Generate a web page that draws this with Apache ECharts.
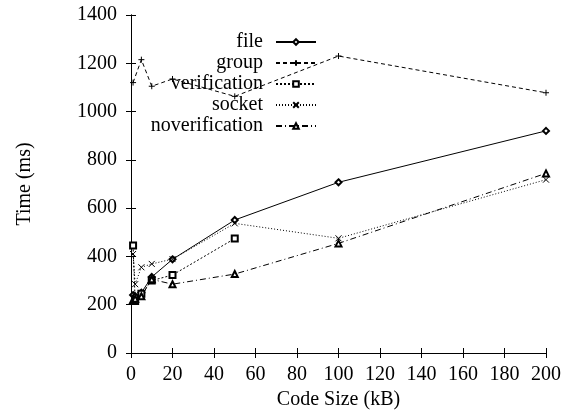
<!DOCTYPE html>
<html><head><meta charset="utf-8">
<script src="https://cdn.jsdelivr.net/npm/echarts@6/dist/echarts.min.js"></script>
<style>html,body{margin:0;padding:0;background:#fff}#c{width:574px;height:412px}</style>
</head><body><div id="c"></div>
<script>
const sizes = [1, 2, 5, 10, 20, 50, 100, 200];
const fileVals = [240, 235, 250, 315, 388, 551, 707, 920];
const groupX = [1, 5, 10, 20, 50, 100, 200];
const groupVals = [1120, 1215, 1105, 1135, 1063, 1230, 1078];
const verifX = [1, 2, 5, 10, 20, 50];
const verifVals = [445, 215, 245, 300, 323, 474];
const socketVals = [410, 285, 355, 369, 389, 537, 475, 718];
const noverifVals = [220, 225, 235, 305, 285, 327, 454, 744];
const xTicks = [0, 200, 20];
const yTicks = [0, 1400, 200];

const pair = (xs, ys) => xs.map((x, i) => [x, ys[i]]);
const font = '"Liberation Serif", "DejaVu Serif", serif';
const fs = 20;
const base = (name, data, symbol, dash) => ({
  name, type: 'line', data, symbol, symbolSize: 6,
  itemStyle: {color: '#000', borderColor: '#000', borderWidth: 1},
  lineStyle: {color: '#000', width: 1, type: dash},
  animation: false
});
const chart = echarts.init(document.getElementById('c'));
chart.setOption({
  backgroundColor: '#fff',
  textStyle: {fontFamily: font, color: '#000'},
  grid: {left: 131, right: 28, top: 15, bottom: 59, containLabel: false, outerBoundsMode: 'none'},
  legend: {
    orient: 'vertical', align: 'right', right: 257, top: 32, padding: 0,
    itemWidth: 40, itemHeight: 7, itemGap: 1,
    textStyle: {fontFamily: font, fontSize: fs, color: '#000', lineHeight: 20, padding: [0, 8, 0, 0]},
    data: ['file', 'group', 'verification', 'socket', 'noverification']
  },
  xAxis: [{
    type: 'value', min: xTicks[0], max: xTicks[1], interval: xTicks[2],
    name: 'Code Size (kB)', nameLocation: 'middle', nameGap: 33,
    nameTextStyle: {fontFamily: font, fontSize: fs, color: '#000'},
    axisLine: {lineStyle: {color: '#000', width: 1}},
    axisTick: {inside: true, length: 5, lineStyle: {color: '#000'}},
    axisLabel: {fontFamily: font, fontSize: fs, color: '#000', margin: 12},
    splitLine: {show: false}
  }, {
    type: 'value', position: 'top', min: xTicks[0], max: xTicks[1], interval: xTicks[2],
    axisLine: {show: true, lineStyle: {color: '#000', width: 1}},
    axisTick: {show: true, inside: true, length: 5, lineStyle: {color: '#000'}},
    axisLabel: {show: false}, splitLine: {show: false}
  }],
  yAxis: [{
    type: 'value', min: yTicks[0], max: yTicks[1], interval: yTicks[2],
    name: 'Time (ms)', nameLocation: 'middle', nameGap: 96,
    nameTextStyle: {fontFamily: font, fontSize: fs, color: '#000'},
    axisLine: {show: true, lineStyle: {color: '#000', width: 1}},
    axisTick: {show: true, inside: true, length: 5, lineStyle: {color: '#000'}},
    axisLabel: {fontFamily: font, fontSize: fs, color: '#000', margin: 14, formatter: v => String(v)},
    splitLine: {show: false}
  }, {
    type: 'value', position: 'right', min: yTicks[0], max: yTicks[1], interval: yTicks[2],
    axisLine: {show: true, lineStyle: {color: '#000', width: 1}},
    axisTick: {show: true, inside: true, length: 5, lineStyle: {color: '#000'}},
    axisLabel: {show: false}, splitLine: {show: false}
  }],
  series: [
    base('file', pair(sizes, fileVals), 'emptyDiamond', 'solid'),
    base('group', pair(groupX, groupVals), 'path://M5,0L5,10M0,5L10,5', [4, 3]),
    base('verification', pair(verifX, verifVals), 'emptyRect', [2, 2]),
    base('socket', pair(sizes, socketVals), 'path://M0,0L10,10M0,10L10,0', [1, 2]),
    base('noverification', pair(sizes, noverifVals), 'emptyTriangle', [6, 3, 1, 3])
  ]
});
</script></body></html>
